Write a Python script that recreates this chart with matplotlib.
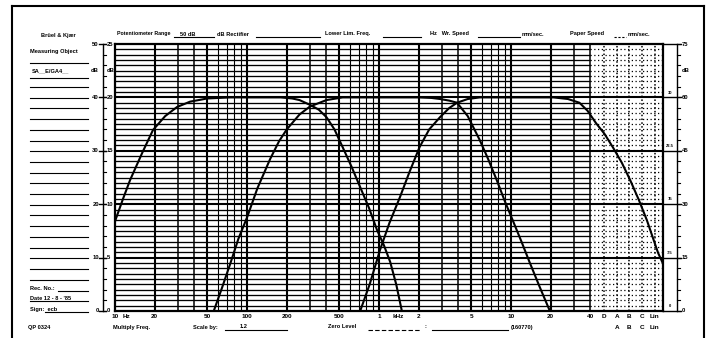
import numpy as np
import matplotlib.pyplot as plt
from matplotlib.lines import Line2D
from matplotlib.ticker import NullLocator
from matplotlib.transforms import blended_transform_factory

plt.rcParams['font.family'] = ['Liberation Sans', 'DejaVu Sans']
plt.rcParams['font.weight'] = 'bold'

# three band responses (Hz, dB)
low_f = [10, 11.5, 13, 16, 19.4, 24, 29.5, 37, 50, 75, 180, 220, 250, 300, 350,
         400, 460, 530, 620, 720, 840, 965, 1090, 1215, 1350, 1490]
low_db = [16.8, 21, 24.5, 29.5, 33.9, 36.5, 38.2, 39.2, 39.8, 40, 40, 39.8, 39.5, 38.6, 37.7,
          36.3, 34, 30.7, 27, 23.2, 19.3, 15.2, 12.3, 9.2, 5, 0]

mid_f = [56, 65, 75, 86, 100, 120, 150, 175, 200, 250, 300, 400, 530, 2000, 2500, 2900,
         3400, 3900, 4700, 5800, 6700, 7800, 9000, 10300, 12000, 13900, 16500, 19700]
mid_db = [0, 4.5, 9, 13.5, 17.5, 23, 28.5, 31.8, 34, 36.8, 38.3, 39.5, 40, 40, 39.9, 39.7,
          39.4, 39, 36.5, 32, 28.5, 24.5, 20.5, 17, 13, 9, 4.5, 0]

high_f = [720, 850, 1020, 1200, 1440, 1700, 2030, 2400, 2900, 3400, 3900, 4700, 5800,
          21000, 27000, 33000, 38000, 44000, 51000, 59000, 69000, 80000, 93000, 107000,
          130000, 141000]
high_db = [0, 5, 11.5, 16.5, 21.3, 26, 30.7, 34, 36.3, 38, 39, 39.7, 40,
           40, 39.7, 39, 37.5, 35.2, 33.2, 30.7, 27.8, 24.5, 20.8, 17,
           10.9, 9]

# printed scales of the chart paper
tick_f = [10, 12.3, 20, 50, 100, 200, 500, 1000, 1400, 2000, 5000, 10000, 20000, 40000]
tick_lbl = ['10', 'Hz', '20', '50', '100', '200', '500', '1', 'kHz', '2', '5', '10', '20', '40']
weight_f = [50700, 63500, 78400, 98200, 123000]
weight_lbl = ['D', 'A', 'B', 'C', 'Lin']

level_major = [0, 10, 20, 30, 40, 50]
left_50 = ['0', '10', '20', '30', '40', '50']
left_25 = ['0', '5', '10', '15', '20', '25']
right_75 = ['0', '15', '30', '45', '60', '75']
right_inner = ['0', '7.5', '15', '22.5', '30', '']

W, H = 712, 338
F_MAX = 10 * 10 ** ((663 - 115) / 132)


def fx(px):
    return px / W


def fy(py):
    return 1 - py / H


def ftext(x, y, s, ha='left', size=4.1):
    fig.text(fx(x), fy(y), s, ha=ha, va='center', fontsize=size)


def rule(x0, x1, y, lw=0.8, ls='-'):
    fig.add_artist(Line2D([fx(x0), fx(x1)], [fy(y), fy(y)], color='k', lw=lw, ls=ls))


fig = plt.figure(figsize=(W / 100, H / 100), dpi=100)
ax = fig.add_axes([fx(115), fy(311), (663 - 115) / W, (311 - 44) / H])
ax.set_xscale('log')
ax.set_xlim(10, F_MAX)
ax.set_ylim(0, 50)

# paper grid: 1 dB horizontals, log verticals, dotted weighting columns
for lev in range(1, 50):
    if lev % 10 == 0:
        ax.axhline(lev, color='k', lw=1.5, zorder=1)
    else:
        ax.hlines(lev, 10, 40000, color='k', lw=0.95, zorder=1)
        ax.hlines(lev, 40000, F_MAX, color='k', lw=0.9, ls=(0, (1, 2)), zorder=1)
for dec in [10, 100, 1000, 10000]:
    for m in range(1, 10):
        f = m * dec
        if f <= 10 or f > 40000:
            continue
        lw = 1.5 if m in (1, 2, 5) else (1.1 if m in (3, 4) else 0.8)
        ax.axvline(f, color='k', lw=lw, zorder=1)
for f in weight_f:
    ax.axvline(f, color='k', lw=1.1, ls=(0, (1, 1.5)), zorder=1)

for fr, db in [(low_f, low_db), (mid_f, mid_db), (high_f, high_db)]:
    ax.plot(fr, db, color='k', lw=1.5, zorder=3, solid_joinstyle='round')

for s in ax.spines.values():
    s.set_linewidth(1.6)

ax.xaxis.set_minor_locator(NullLocator())
ax.set_xticks(tick_f + weight_f)
ax.set_xticklabels(tick_lbl + weight_lbl)
ax.tick_params(axis='x', length=0, pad=2, labelsize=4.6)
ax.set_yticks([])

# level scales either side
yt = blended_transform_factory(ax.transAxes, ax.transData)


def ax_x(px):
    return (px - 115) / 548


ax.plot([ax_x(103)] * 2, [0, 50], color='k', lw=1.0, transform=yt, clip_on=False)
ax.plot([ax_x(677)] * 2, [0, 50], color='k', lw=1.0, transform=yt, clip_on=False)
for lev in range(0, 51, 2):
    ax.plot([ax_x(103), ax_x(106)], [lev, lev], color='k', lw=0.8, transform=yt, clip_on=False)
    ax.plot([ax_x(677), ax_x(680)], [lev, lev], color='k', lw=0.8, transform=yt, clip_on=False)
for lev, a, b, c, d in zip(level_major, left_50, left_25, right_75, right_inner):
    ax.plot([ax_x(99), ax_x(106)], [lev, lev], color='k', lw=1.0, transform=yt, clip_on=False)
    ax.plot([ax_x(663), ax_x(681)], [lev, lev], color='k', lw=1.0, transform=yt, clip_on=False)
    ax.text(ax_x(99), lev, a, ha='right', va='center', fontsize=4.2, transform=yt)
    ax.text(ax_x(107), lev, b, ha='left', va='center', fontsize=4.2, transform=yt)
    ax.text(ax_x(682), lev, c, ha='left', va='center', fontsize=4.2, transform=yt)
    ax.text(ax_x(670), lev + 0.9, d, ha='center', va='center', fontsize=3, transform=yt)
ax.text(ax_x(99), 45, 'dB', ha='right', va='center', fontsize=4.2, transform=yt)
ax.text(ax_x(107), 45, 'dB', ha='left', va='center', fontsize=4.2, transform=yt)
ax.text(ax_x(682), 45, 'dB', ha='left', va='center', fontsize=4.2, transform=yt)

# outer page border
for xs, ys in [([12, 704], [6, 6]), ([12, 12], [6, 338]), ([704, 704], [6, 338])]:
    fig.add_artist(Line2D([fx(v) for v in xs], [fy(v) for v in ys], color='k', lw=1.5))

# header line
ftext(117, 34, 'Potentiometer Range', size=3.8)
rule(174, 214, 37)
ftext(180, 34, '50 dB')
ftext(217, 34, 'dB Rectifier')
rule(256, 320, 37)
ftext(325, 34, 'Lower Lim. Freq.')
rule(383, 421, 37)
ftext(430, 34, 'Hz   Wr. Speed')
rule(478, 520, 37)
ftext(522, 34, 'mm/sec.')
ftext(570, 34, 'Paper Speed')
rule(614, 626, 37, ls=(0, (2, 1.5)))
ftext(628, 34, 'mm/sec.')

# left info column
ftext(58, 35, 'Brüel & Kjær', ha='center')
ftext(30, 52, 'Measuring Object')
rule(30, 88, 63)
ftext(32, 71, 'SA__E/GA4__')
rule(30, 88, 78)
for y in np.arange(87, 282, 10.7):
    rule(30, 88, y)
ftext(30, 288, 'Rec. No.:')
rule(58, 88, 291)
ftext(30, 298, 'Date 12 - 8 - \'85')
rule(30, 88, 301)
ftext(30, 309, 'Sign:  ecb')
rule(45, 88, 312)

# footer
ftext(28, 327, 'QP 0324')
ftext(113, 327, 'Multiply Freq.')
ftext(193, 327, 'Scale by:')
rule(225, 287, 330)
ftext(240, 326, '1.2')
ftext(328, 327, 'Zero Level')
rule(368, 420, 330, ls=(0, (4, 2)))
ftext(424, 327, ':')
rule(432, 508, 330)
ftext(522, 327, '(160770)', ha='center')
bt = blended_transform_factory(ax.transData, ax.transAxes)
for f, s in zip(weight_f[1:], weight_lbl[1:]):
    ax.text(f, -0.06, s, ha='center', va='center', fontsize=4.6, transform=bt)

fig.savefig('out.png', dpi=100, facecolor='white')
